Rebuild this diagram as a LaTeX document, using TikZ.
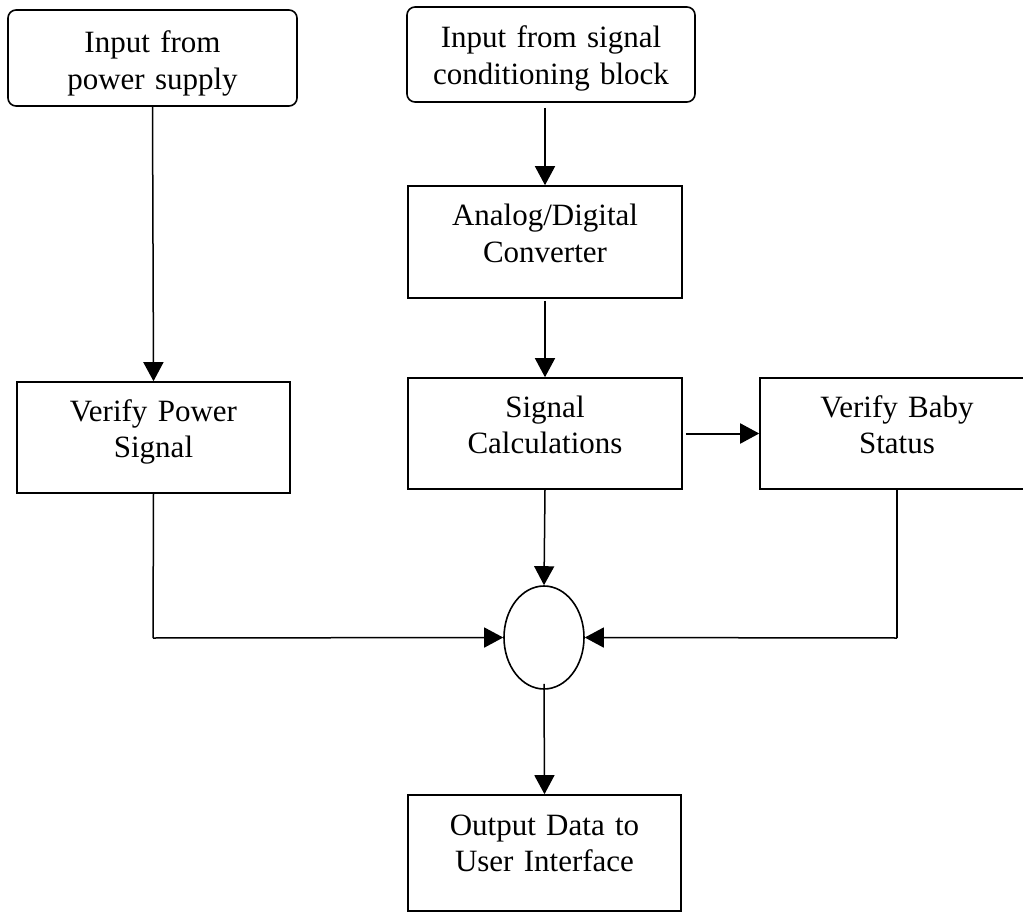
\documentclass[tikz,border=0pt]{standalone}
\usepackage{fontspec}
\setmainfont{Liberation Serif}
\usetikzlibrary{arrows.meta,shapes.geometric}
\begin{document}
\begin{tikzpicture}[x=1pt,y=-1pt,
  blk/.style={draw,line width=1.6pt,inner sep=0pt},
  rblk/.style={blk,rounded corners=8pt},
  txt/.style={inner sep=0pt,text width=300pt,align=center,anchor=base,
    font=\fontsize{31}{36.5}\selectfont},
  con/.style={line width=1.5pt},
  arr/.style={con,-{Triangle[length=19pt,width=20pt]}}]
\useasboundingbox (0,0) rectangle (1023,912);
% boxes
\node[rblk,minimum width=289pt,minimum height=96pt] (pwr) at (152.5,58) {};
\node[rblk,minimum width=288pt,minimum height=95pt] (sc) at (551,54.5) {};
\node[blk,minimum width=274pt,minimum height=112pt] (ad) at (545,242) {};
\node[blk,minimum width=273pt,minimum height=111pt] (vp) at (153.5,437.5) {};
\node[blk,minimum width=274pt,minimum height=111pt] (calc) at (545,433.5) {};
\node[blk,minimum width=274pt,minimum height=111pt] (baby) at (897,433.5) {};
\node[blk,ellipse,minimum width=80pt,minimum height=103pt] (ell) at (544,637.5) {};
\node[blk,minimum width=273pt,minimum height=116pt] (out) at (544.5,853) {};
% texts
\node[txt] (pwrt) at (152.5,53) {Input from\\power supply};
\node[txt] (sct) at (551,48) {Input from signal\\conditioning block};
\node[txt] (adt) at (545,226) {Analog/Digital\\Converter};
\node[txt] (vpt) at (153.5,421) {Verify Power\\Signal};
\node[txt] (calct) at (545,417) {Signal\\Calculations};
\node[txt] (babyt) at (897,417) {Verify Baby\\Status};
\node[txt] (outt) at (544.5,835) {Output Data to\\User Interface};
% connectors
\coordinate (jl) at (153,638);
\coordinate (jr) at (897,638);
\draw[arr] (pwr.south) -- (vp.north);
\draw[arr] ([yshift=-5pt]sc.south -| ad.north) -- (ad.north);
\draw[arr] ([yshift=-2pt]ad.south) -- (calc.north);
\draw[arr,line width=2pt] ([xshift=3pt]calc.east) -- (baby.west);
\draw[arr] (calc.south) -- (ell.north);
\draw[con] (vp.south) -- (jl);
\draw[arr] (jl) -- (ell.west);
\draw[con] (baby.south) -- (jr);
\draw[arr] (jr) -- (ell.east);
\draw[arr] ([yshift=6pt]ell.south) -- (out.north);
\end{tikzpicture}
\end{document}
